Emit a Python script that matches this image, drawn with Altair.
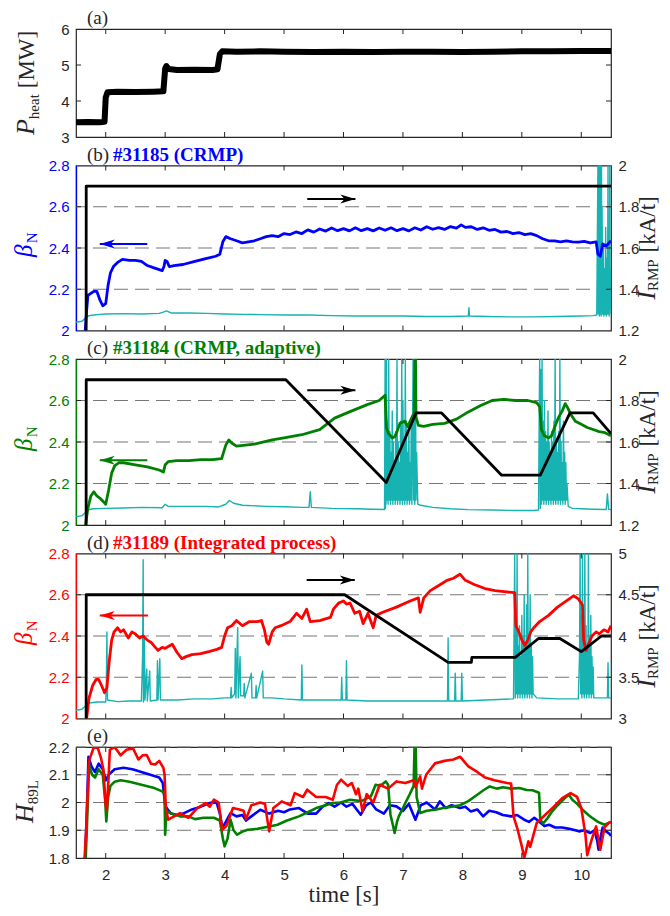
import altair as alt
import pandas as pd

# ---------------- data ----------------
X_TICKS = [2, 3, 4, 5, 6, 7, 8, 9, 10]
BETA_TICKS = [2, 2.2, 2.4, 2.6, 2.8]
BETA_GRID = [2.2, 2.4, 2.6]
PHEAT_TICKS = [3, 4, 5, 6]
IRMP_TICKS_BC = [1.2, 1.4, 1.6, 1.8, 2]
IRMP_TICKS_D = [3, 3.5, 4, 4.5, 5]
H_TICKS = [1.8, 1.9, 2.0, 2.1, 2.2]
H_GRID = [1.9, 2.0, 2.1, 2.2]

pheat_t = [1.5, 1.7, 1.9, 1.98, 2.0, 2.03, 2.2, 2.5, 2.8, 2.97, 3.0, 3.02, 3.06, 3.2, 3.5, 3.8, 3.88,
           3.92, 3.96, 4.2, 4.6, 5.0, 5.5, 6.0, 6.5, 7.0, 7.5, 8.0, 8.5, 9.0, 9.5, 10.0, 10.5]
pheat_v = [3.41, 3.42, 3.41, 3.42, 4.1, 4.24, 4.26, 4.25, 4.26, 4.27, 4.9, 4.97, 4.89, 4.86, 4.87, 4.86, 4.88,
           5.3, 5.38, 5.37, 5.38, 5.37, 5.36, 5.37, 5.36, 5.37, 5.37, 5.36, 5.37, 5.38, 5.38, 5.39, 5.39]

# ---- #31185 (b)
beta_b_t = [1.65, 1.68, 1.70, 1.75, 1.8, 1.85, 1.9, 1.95, 2.0, 2.04, 2.08, 2.13, 2.2, 2.28, 2.4, 2.5, 2.6, 2.7,
            2.8, 2.9, 2.95, 2.98, 3.0, 3.03, 3.07, 3.15, 3.3, 3.5, 3.7, 3.85, 3.92, 3.97, 4.02, 4.1, 4.2, 4.3,
            4.4, 4.5, 4.6, 4.7, 4.8, 4.9, 5.0, 5.1, 5.2, 5.3, 5.4, 5.5, 5.6, 5.7, 5.8, 5.9, 6.0, 6.1, 6.2,
            6.3, 6.4, 6.5, 6.6, 6.7, 6.8, 6.9, 7.0, 7.1, 7.2, 7.3, 7.4, 7.5, 7.6, 7.7, 7.8, 7.9, 7.98, 8.05,
            8.15, 8.25, 8.35, 8.45, 8.55, 8.65, 8.75, 8.85, 8.95, 9.05, 9.15, 9.25, 9.35, 9.45, 9.55, 9.65,
            9.75, 9.85, 9.95, 10.05, 10.15, 10.25, 10.28, 10.32, 10.36, 10.42, 10.5]
beta_b_v = [1.98, 2.1, 2.17, 2.18, 2.19, 2.19, 2.15, 2.12, 2.13, 2.22, 2.28, 2.31, 2.33, 2.345, 2.34, 2.34, 2.335,
            2.315, 2.305, 2.295, 2.29, 2.31, 2.34, 2.335, 2.31, 2.315, 2.32, 2.335, 2.35, 2.36, 2.37, 2.43, 2.455,
            2.445, 2.435, 2.425, 2.43, 2.435, 2.445, 2.455, 2.46, 2.455, 2.47, 2.465, 2.478, 2.47, 2.488, 2.477,
            2.492, 2.482, 2.497, 2.484, 2.494, 2.483, 2.498, 2.484, 2.494, 2.483, 2.497, 2.486, 2.498, 2.484, 2.494, 2.483,
            2.498, 2.487, 2.503, 2.491, 2.499, 2.49, 2.504, 2.496, 2.512, 2.50, 2.503, 2.49, 2.498, 2.486, 2.49,
            2.477, 2.48, 2.47, 2.475, 2.465, 2.47, 2.46, 2.445, 2.435, 2.435, 2.43, 2.435, 2.43, 2.428, 2.432,
            2.425, 2.43, 2.37, 2.36, 2.42, 2.41, 2.435]
cyan_b_t = [1.5, 1.6, 1.66, 1.72, 1.8, 1.9, 2.0, 2.3, 2.6, 2.9, 2.98, 3.02, 3.1, 3.4, 3.7, 4.0, 4.3, 4.6, 5.0,
            5.4, 5.8, 6.2, 6.6, 7.0, 7.4, 7.8, 8.1, 8.11, 8.12, 8.4, 8.8, 9.2, 9.6, 10.0, 10.2, 10.26,
            10.28, 10.285, 10.29, 10.295, 10.30, 10.305, 10.31, 10.315, 10.32, 10.325, 10.33, 10.335, 10.34,
            10.345, 10.35, 10.36, 10.37, 10.38, 10.39, 10.40, 10.41, 10.42, 10.43, 10.44, 10.45, 10.455,
            10.46, 10.47, 10.48, 10.485, 10.49, 10.5]
cyan_b_v = [2.04, 2.045, 2.06, 2.072, 2.075, 2.078, 2.08, 2.082, 2.08, 2.083, 2.09, 2.095, 2.085, 2.085, 2.083,
            2.08, 2.078, 2.077, 2.075, 2.075, 2.072, 2.07, 2.07, 2.07, 2.068, 2.068, 2.07, 2.11, 2.07, 2.068,
            2.066, 2.066, 2.068, 2.07, 2.072, 2.075,
            2.8, 2.08, 2.8, 2.1, 2.8, 2.07, 2.8, 2.09, 2.7, 2.08, 2.8, 2.07, 2.8,
            2.1, 2.6, 2.08, 2.4, 2.07, 2.3, 2.08, 2.5, 2.07, 2.35, 2.08, 2.8, 2.08,
            2.45, 2.07, 2.8, 2.1, 2.3, 2.08]
irmp_b_t = [1.67, 1.672, 10.5]
irmp_b_v = [1.0, 1.9, 1.9]

# ---- #31184 (c)
beta_c_t = [1.65, 1.7, 1.75, 1.8, 1.85, 1.9, 1.97, 2.0, 2.05, 2.1, 2.15, 2.22, 2.3, 2.5, 2.7, 2.9, 2.97, 3.0,
            3.05, 3.2, 3.4, 3.6, 3.8, 3.95, 4.02, 4.07, 4.12, 4.2, 4.5, 4.8, 5.0, 5.3, 5.6, 5.85, 6.1, 6.4,
            6.6, 6.7, 6.72, 6.76, 6.82, 6.86, 6.9, 6.95, 7.03, 7.08, 7.13, 7.17, 7.19, 7.2, 7.21, 7.22, 7.26,
            7.35, 7.5, 7.7, 7.9, 8.1, 8.3, 8.5, 8.7, 8.9, 9.1, 9.25, 9.3, 9.33, 9.38, 9.45, 9.5, 9.55, 9.62,
            9.68, 9.73, 9.78, 9.83, 9.9, 10.0, 10.1, 10.2, 10.3, 10.4, 10.5]
beta_c_v = [1.98, 2.08, 2.14, 2.16, 2.14, 2.13, 2.11, 2.10, 2.17, 2.25, 2.285, 2.30, 2.30, 2.29, 2.28, 2.265,
            2.255, 2.29, 2.305, 2.31, 2.31, 2.315, 2.315, 2.32, 2.385, 2.41, 2.395, 2.38, 2.39, 2.41, 2.42,
            2.435, 2.46, 2.515, 2.545, 2.58, 2.60, 2.625, 2.47, 2.44, 2.42, 2.425, 2.45, 2.49, 2.50, 2.475,
            2.505, 2.53, 2.52, 2.85, 2.85, 2.52, 2.48, 2.475, 2.485, 2.49, 2.51, 2.545, 2.575, 2.60, 2.605,
            2.60, 2.60, 2.59, 2.57, 2.46, 2.43, 2.42, 2.43, 2.47, 2.52, 2.55, 2.585, 2.56, 2.53, 2.50, 2.485,
            2.47, 2.46, 2.45, 2.445, 2.43]
cyan_c_t = [1.5, 1.6, 1.66, 1.72, 1.8, 2.0, 2.3, 2.6, 2.95, 3.0, 3.05, 3.4, 3.7, 3.9, 4.02, 4.08, 4.15, 4.3,
            4.7, 5.0, 5.3, 5.42, 5.44, 5.46, 5.8, 6.2, 6.5, 6.69,
            6.70, 6.705, 6.71, 6.715, 6.72, 6.73, 6.74, 6.75, 6.76, 6.77, 6.78, 6.79, 6.80, 6.81, 6.82, 6.83,
            6.84, 6.85, 6.86, 6.87, 6.88, 6.89, 6.90, 6.91, 6.92, 6.93, 6.94, 6.95, 6.96, 6.97, 6.98, 6.99,
            7.00, 7.01, 7.02, 7.03, 7.04, 7.05, 7.06, 7.07, 7.08, 7.09, 7.10, 7.11, 7.12, 7.13, 7.14, 7.15,
            7.16, 7.17, 7.18, 7.19, 7.20, 7.21, 7.22, 7.23, 7.25,
            7.3, 7.5, 7.8, 8.1, 8.5, 8.9, 9.2, 9.28,
            9.30, 9.31, 9.32, 9.33, 9.34, 9.35, 9.36, 9.37, 9.38, 9.39, 9.40, 9.41, 9.42, 9.43, 9.44, 9.45,
            9.46, 9.47, 9.48, 9.49, 9.50, 9.51, 9.52, 9.53, 9.54, 9.55, 9.56, 9.57, 9.58, 9.59, 9.60, 9.61,
            9.62, 9.63, 9.64, 9.65, 9.66, 9.67, 9.68, 9.69, 9.70, 9.71, 9.72, 9.73, 9.74, 9.75, 9.76, 9.78,
            9.85, 10.0, 10.2, 10.42, 10.44, 10.46, 10.5]
cyan_c_v = [2.04, 2.045, 2.06, 2.075, 2.078, 2.08, 2.082, 2.085, 2.083, 2.1, 2.09, 2.09, 2.09, 2.087, 2.1, 2.118,
            2.105, 2.095, 2.09, 2.088, 2.085, 2.085, 2.16, 2.085, 2.08, 2.078, 2.076, 2.075,
            2.8, 2.08, 2.6, 2.1, 2.8, 2.12, 2.5, 2.1, 2.8, 2.12, 2.45, 2.1, 2.35, 2.12, 2.55, 2.1,
            2.4, 2.12, 2.3, 2.1, 2.45, 2.12, 2.8, 2.1, 2.4, 2.12, 2.3, 2.1, 2.5, 2.12, 2.8, 2.1,
            2.6, 2.12, 2.4, 2.1, 2.8, 2.12, 2.5, 2.1, 2.35, 2.12, 2.45, 2.1, 2.3, 2.12, 2.5, 2.1,
            2.4, 2.8, 2.12, 2.6, 2.1, 2.8, 2.12, 2.35, 2.1,
            2.095, 2.085, 2.078, 2.074, 2.072, 2.07, 2.07, 2.072,
            2.8, 2.08, 2.75, 2.1, 2.8, 2.12, 2.5, 2.1, 2.6, 2.12, 2.45, 2.1, 2.4, 2.12, 2.55, 2.1,
            2.4, 2.12, 2.35, 2.1, 2.45, 2.12, 2.4, 2.1, 2.5, 2.12, 2.8, 2.1, 2.4, 2.12, 2.35, 2.1,
            2.45, 2.12, 2.8, 2.1, 2.4, 2.12, 2.3, 2.1, 2.5, 2.12, 2.35, 2.1, 2.3, 2.12, 2.2, 2.09,
            2.08, 2.078, 2.076, 2.075, 2.15, 2.076, 2.075]
irmp_c_t = [1.67, 1.672, 5.03, 6.72, 7.22, 7.65, 8.66, 9.31, 9.81, 10.2, 10.5]
irmp_c_v = [1.0, 1.9, 1.9, 1.405, 1.74, 1.74, 1.44, 1.44, 1.74, 1.74, 1.64]

# ---- #31189 (d)
beta_d_t = [1.67, 1.72, 1.78, 1.84, 1.88, 1.93, 1.98, 2.02, 2.06, 2.1, 2.14, 2.2, 2.25, 2.3, 2.38, 2.44, 2.5,
            2.57, 2.63, 2.7, 2.76, 2.82, 2.88, 2.95, 3.0, 3.06, 3.12, 3.2, 3.28, 3.35, 3.45, 3.6, 3.75, 3.87,
            3.95, 4.0, 4.05, 4.12, 4.2, 4.3, 4.42, 4.55, 4.62, 4.67, 4.71, 4.74, 4.8, 4.85, 4.95, 5.1, 5.21,
            5.3, 5.38, 5.44, 5.6, 5.78, 5.83, 5.92, 6.0, 6.05, 6.11, 6.19, 6.27, 6.33, 6.41, 6.5, 6.55, 6.66,
            6.89, 7.12, 7.26, 7.29, 7.35, 7.46, 7.63, 7.74, 7.85, 7.96, 8.05, 8.2, 8.38, 8.55, 8.7, 8.88,
            8.9, 8.95, 9.0, 9.05, 9.1, 9.15, 9.2, 9.3, 9.45, 9.6, 9.75, 9.87, 9.95, 10.02, 10.04, 10.08,
            10.12, 10.18, 10.25, 10.3, 10.38, 10.45, 10.5]
beta_d_v = [1.98, 2.1, 2.16, 2.19, 2.19, 2.16, 2.125, 2.15, 2.28, 2.38, 2.42, 2.44, 2.42, 2.43, 2.39, 2.42,
            2.41, 2.39, 2.40, 2.38, 2.37, 2.35, 2.33, 2.345, 2.34, 2.35, 2.36, 2.32, 2.29, 2.30, 2.31, 2.315,
            2.325, 2.335, 2.345, 2.40, 2.44, 2.45, 2.475, 2.45, 2.47, 2.47, 2.475, 2.43, 2.37, 2.36, 2.42,
            2.44, 2.45, 2.47, 2.51, 2.485, 2.53, 2.47, 2.475, 2.49, 2.53, 2.56, 2.57, 2.555, 2.56, 2.51,
            2.52, 2.46, 2.51, 2.44, 2.50, 2.515, 2.54, 2.57, 2.585, 2.515, 2.585, 2.62, 2.65, 2.67, 2.68,
            2.70, 2.67, 2.65, 2.63, 2.62, 2.615, 2.61, 2.45, 2.42, 2.38, 2.355, 2.38, 2.42, 2.44, 2.47,
            2.50, 2.54, 2.57, 2.595, 2.58, 2.55, 2.38, 2.33, 2.36, 2.40, 2.42, 2.41, 2.43, 2.42, 2.45]
cyan_d_t = [1.5, 1.6, 1.66, 1.72, 1.85, 2.0, 2.01, 2.02, 2.03, 2.2, 2.4, 2.6, 2.62, 2.63, 2.635, 2.65, 2.66,
            2.69, 2.7, 2.74, 2.75, 2.86, 2.87, 2.88, 2.91, 2.92, 3.2, 3.5, 3.8, 4.0, 4.1, 4.11, 4.12, 4.17,
            4.18, 4.19, 4.22, 4.23, 4.26, 4.27, 4.32, 4.33, 4.34, 4.45, 4.46, 4.52, 4.53, 4.54, 4.64, 4.65,
            4.8, 5.0, 5.29, 5.3, 5.31, 5.6, 5.96, 5.97, 5.98, 6.04, 6.05, 6.06, 6.4, 6.8, 7.2, 7.5, 7.75,
            7.76, 7.77, 7.87, 7.88, 7.89, 7.98, 7.99, 8.0, 8.4, 8.86,
            8.88, 8.89, 8.90, 8.91, 8.92, 8.93, 8.94, 8.95, 8.96, 8.97, 8.98, 8.99, 9.0, 9.01, 9.02, 9.03,
            9.04, 9.05, 9.06, 9.07, 9.08, 9.09, 9.10, 9.11, 9.12, 9.13, 9.14, 9.15, 9.16, 9.17, 9.18, 9.19,
            9.25, 9.6, 9.95,
            9.97, 9.98, 9.99, 10.0, 10.01, 10.02, 10.03, 10.04, 10.05, 10.06, 10.07, 10.08, 10.09, 10.10,
            10.11, 10.12, 10.13, 10.14, 10.15, 10.16, 10.17, 10.18, 10.19, 10.2, 10.21,
            10.25, 10.44, 10.45, 10.46, 10.5]
cyan_d_v = [2.04, 2.045, 2.06, 2.075, 2.08, 2.08, 2.15, 2.42, 2.09, 2.082, 2.085, 2.085, 2.3, 2.77, 2.08, 2.4,
            2.09, 2.24, 2.085, 2.23, 2.085, 2.09, 2.28, 2.09, 2.29, 2.09, 2.09, 2.095, 2.095, 2.1, 2.1, 2.15,
            2.1, 2.12, 2.34, 2.1, 2.44, 2.1, 2.3, 2.11, 2.11, 2.17, 2.1, 2.22, 2.1, 2.1, 2.16, 2.1, 2.23, 2.1,
            2.1, 2.095, 2.09, 2.26, 2.09, 2.09, 2.09, 2.2, 2.09, 2.09, 2.28, 2.09, 2.085, 2.085, 2.085, 2.085,
            2.085, 2.39, 2.085, 2.085, 2.22, 2.085, 2.085, 2.22, 2.085, 2.09, 2.095,
            2.8, 2.1, 2.5, 2.12, 2.8, 2.1, 2.35, 2.12, 2.45, 2.1, 2.3, 2.12, 2.5, 2.1, 2.4, 2.12,
            2.6, 2.1, 2.35, 2.12, 2.55, 2.1, 2.8, 2.12, 2.4, 2.1, 2.6, 2.12, 2.35, 2.1, 2.3, 2.12,
            2.1, 2.095, 2.095,
            2.3, 2.8, 2.12, 2.5, 2.1, 2.8, 2.12, 2.4, 2.1, 2.8, 2.12, 2.45, 2.1, 2.35,
            2.12, 2.8, 2.1, 2.4, 2.12, 2.5, 2.1, 2.3, 2.12, 2.25, 2.1,
            2.1, 2.1, 2.27, 2.1, 2.1]
irmp_d_t = [1.67, 1.672, 6.02, 7.76, 8.15, 8.16, 8.89, 9.28, 9.64, 10.0, 10.34, 10.5]
irmp_d_v = [2.5, 4.5, 4.5, 3.68, 3.68, 3.74, 3.74, 3.97, 3.97, 3.81, 4.0, 4.0]

# ---- H89L (e)
h_b_t = [1.65, 1.68, 1.71, 1.76, 1.82, 1.88, 1.95, 2.0, 2.05, 2.15, 2.3, 2.45, 2.6, 2.75, 2.9, 2.96, 3.0,
         3.04, 3.1, 3.2, 3.3, 3.45, 3.6, 3.75, 3.86, 3.92, 3.96, 4.02, 4.1, 4.2, 4.3, 4.36, 4.45, 4.6, 4.75,
         4.9, 5.0, 5.1, 5.25, 5.4, 5.54, 5.65, 5.75, 5.85, 5.96, 6.05, 6.15, 6.29, 6.38, 6.46, 6.55, 6.68,
         6.78, 6.89, 7.0, 7.1, 7.21, 7.3, 7.4, 7.54, 7.62, 7.72, 7.82, 7.96, 8.05, 8.14, 8.25, 8.35, 8.45,
         8.57, 8.68, 8.82, 8.92, 9.04, 9.12, 9.21, 9.3, 9.38, 9.46, 9.56, 9.68, 9.8, 9.9, 9.96, 10.05,
         10.15, 10.22, 10.27, 10.29, 10.33, 10.36, 10.42, 10.46, 10.5]
h_b_v = [1.78, 1.95, 2.165, 2.13, 2.11, 2.14, 2.12, 2.08, 2.10, 2.12, 2.125, 2.12, 2.11, 2.10, 2.09, 2.07,
         1.99, 1.975, 1.96, 1.955, 1.96, 1.975, 1.985, 1.998, 2.004, 1.96, 1.908, 1.93, 1.962, 1.95, 1.955,
         1.935, 1.95, 1.974, 1.96, 1.97, 1.965, 1.975, 1.98, 1.96, 1.96, 1.985, 1.998, 1.985, 2.0, 1.985,
         1.995, 1.956, 1.99, 2.0, 1.975, 1.96, 1.99, 1.986, 1.97, 1.995, 1.938, 1.99, 2.0, 1.975, 2.004,
         1.98, 1.99, 1.98, 1.985, 1.968, 1.975, 1.95, 1.97, 1.965, 1.955, 1.95, 1.955, 1.938, 1.93, 1.945,
         1.93, 1.915, 1.92, 1.91, 1.91, 1.905, 1.9, 1.896, 1.9, 1.89, 1.9, 1.86, 1.83, 1.88, 1.91, 1.895,
         1.89, 1.88]
h_g_t = [1.66, 1.69, 1.72, 1.77, 1.82, 1.88, 1.95, 1.99, 2.01, 2.04, 2.08, 2.15, 2.25, 2.4, 2.6, 2.82, 2.95,
         2.99, 3.0, 3.02, 3.1, 3.25, 3.39, 3.5, 3.65, 3.82, 3.92, 3.97, 4.0, 4.05, 4.1, 4.15, 4.21, 4.3,
         4.39, 4.55, 4.71, 4.89, 5.05, 5.25, 5.4, 5.54, 5.7, 5.82, 5.95, 6.11, 6.3, 6.46, 6.54, 6.62, 6.71,
         6.75, 6.79, 6.83, 6.86, 6.9, 6.93, 7.0, 7.04, 7.11, 7.18, 7.2, 7.21, 7.23, 7.29, 7.4, 7.54, 7.68,
         7.82, 7.96, 8.1, 8.25, 8.36, 8.46, 8.58, 8.68, 8.82, 8.96, 9.08, 9.18, 9.29, 9.31, 9.36, 9.42,
         9.5, 9.58, 9.64, 9.72, 9.79, 9.85, 9.93, 10.04, 10.12, 10.18, 10.28, 10.39, 10.45, 10.5]
h_g_v = [1.78, 1.95, 2.135, 2.10, 2.09, 2.12, 2.10, 2.01, 1.932, 2.02, 2.06, 2.075, 2.08, 2.075, 2.064, 2.052,
         2.04, 2.03, 1.884, 1.97, 1.96, 1.95, 1.95, 1.94, 1.945, 1.945, 1.935, 1.87, 1.842, 1.87, 1.938,
         1.90, 1.884, 1.895, 1.902, 1.905, 1.912, 1.92, 1.935, 1.95, 1.965, 1.98, 1.99, 1.998, 2.0, 2.01,
         2.005, 2.022, 2.064, 2.06, 2.076, 2.064, 1.956, 1.92, 1.89, 1.93, 1.95, 1.98, 1.998, 2.028, 2.06,
         2.25, 2.25, 2.02, 1.962, 1.97, 1.974, 1.98, 1.985, 1.99, 2.005, 2.028, 2.045, 2.058, 2.05, 2.055,
         2.05, 2.052, 2.045, 2.044, 2.035, 1.938, 1.925, 1.94, 1.965, 1.985, 1.998, 2.015, 2.028, 2.01,
         1.995, 1.97, 1.955, 1.945, 1.93, 1.92, 1.925, 1.93]
h_r_t = [1.64, 1.67, 1.72, 1.8, 1.87, 1.92, 1.96, 2.0, 2.02, 2.05, 2.07, 2.15, 2.25, 2.35, 2.46, 2.55, 2.62,
         2.69, 2.76, 2.83, 2.9, 2.97, 2.99, 3.01, 3.05, 3.15, 3.25, 3.39, 3.54, 3.68, 3.75, 3.82, 3.9, 3.93,
         3.96, 4.03, 4.14, 4.25, 4.32, 4.36, 4.45, 4.6, 4.68, 4.71, 4.75, 4.82, 4.96, 5.11, 5.18, 5.32,
         5.39, 5.54, 5.7, 5.82, 5.89, 5.96, 6.07, 6.14, 6.21, 6.25, 6.32, 6.39, 6.5, 6.61, 6.75, 6.89,
         7.04, 7.18, 7.21, 7.29, 7.32, 7.39, 7.54, 7.7, 7.85, 7.96, 8.1, 8.25, 8.38, 8.54, 8.75, 8.82,
         8.86, 8.93, 9.0, 9.04, 9.11, 9.14, 9.25, 9.39, 9.54, 9.68, 9.82, 9.93, 10.0, 10.07, 10.1, 10.18,
         10.25, 10.32, 10.39, 10.46, 10.5]
h_r_v = [1.78, 1.9, 2.15, 2.2, 2.195, 2.16, 2.12, 1.99, 1.975, 2.1, 2.19, 2.2, 2.17, 2.19, 2.195, 2.155,
         2.17, 2.171, 2.14, 2.137, 2.15, 2.125, 2.10, 1.985, 1.938, 1.95, 1.962, 1.945, 1.98, 1.998, 1.985,
         2.01, 2.0, 1.95, 1.902, 1.915, 1.98, 1.975, 1.97, 1.94, 1.99, 2.0, 1.995, 1.95, 1.896, 1.98,
         2.004, 1.99, 2.034, 2.02, 2.046, 2.02, 2.02, 2.01, 2.064, 2.082, 2.06, 2.07, 2.03, 2.05, 1.968,
         2.03, 2.0, 2.064, 2.05, 2.076, 2.07, 2.08, 2.055, 2.094, 2.05, 2.10, 2.141, 2.15, 2.155, 2.165,
         2.13, 2.11, 2.09, 2.08, 2.07, 2.068, 1.95, 1.902, 1.842, 1.80, 1.86, 1.84, 1.926, 1.955, 1.985,
         2.016, 2.034, 2.02, 1.98, 1.884, 1.81, 1.87, 1.914, 1.83, 1.91, 1.926, 1.93]

# arrows: (start, end, level)
arrow_b_beta = (1.9, 2.7, 2.42)
arrow_b_i = (5.39, 6.2, 1.838)
arrow_c_beta = (1.9, 2.7, 2.312)
arrow_c_i = (5.39, 6.2, 1.849)
arrow_d_beta = (1.9, 2.71, 2.50)
arrow_d_i = (5.38, 6.19, 4.68)

# ---------------- style ----------------
W = 535
SERIF = "Liberation Serif"
SANS = "Liberation Sans"
DARK = "#262626"
CYAN = "#17b2b2"
BLUE = "#0000ff"
GREEN = "#008000"
RED = "#ff0000"
GRID = "#777777"

XS = alt.Scale(domain=[1.5, 10.5], nice=False, zero=False)
one = pd.DataFrame({"k": [0]})

CW = {'P': .61, 'β': .55, 'N': .67, 'H': .72, 'I': .33, 'R': .67, 'M': .89, 'W': .94, 'A': .72,
      'L': .61, '[': .33, ']': .33, '/': .28, 'k': .5, 't': .28, 'h': .5, 'e': .44, 'a': .44}


def tw(s, size):
    return sum(CW.get(c, 0.5) for c in s) * size


def df(t, v):
    return pd.DataFrame({"t": t, "v": v})


def axis_y(values, orient, color, domain):
    kw = dict(orient=orient, values=values, format="~g", title=None, ticks=False, grid=False,
              labelFont=SANS, labelFontSize=15, labelColor=color, labelPadding=7,
              labelOverlap=False, labelFlush=False, domain=domain)
    if domain:
        kw.update(domainColor=color, domainWidth=1.3)
    return alt.Axis(**kw)


def X(xa):
    return alt.X("t:Q", scale=XS, axis=xa)


def line(t, v, ys, ya, color, width, xa=None):
    return alt.Chart(df(t, v)).mark_line(color=color, strokeWidth=width, clip=True, strokeJoin="round").encode(
        x=X(xa), y=alt.Y("v:Q", scale=ys, axis=ya))


def grid(values, ys, ya):
    return alt.Chart(pd.DataFrame({"v": values})).mark_rule(color=GRID, strokeWidth=1.2,
                                                            strokeDash=[14, 7]).encode(
        y=alt.Y("v:Q", scale=ys, axis=ya))


def xticks(H, xa=None):
    d = pd.DataFrame({"t": X_TICKS})
    top = alt.Chart(d).mark_rule(color=DARK).encode(x=X(xa), y=alt.value(0), y2=alt.value(5))
    bot = alt.Chart(d).mark_rule(color=DARK).encode(x=X(xa), y=alt.value(H - 5), y2=alt.value(H))
    return [top, bot]


def yticks(values, ys, ya, side):
    d = pd.DataFrame({"v": values})
    x0, x1 = (0, 5) if side == "left" else (W - 5, W)
    return alt.Chart(d).mark_rule(color=DARK).encode(
        y=alt.Y("v:Q", scale=ys, axis=ya), x=alt.value(x0), x2=alt.value(x1))


def arrow(spec, ys, ya, color, direction):
    t0, t1, lvl = spec
    shaft = alt.Chart(pd.DataFrame({"t": [t0, t1], "v": [lvl, lvl]})).mark_line(
        color=color, strokeWidth=2).encode(x=X(None), y=alt.Y("v:Q", scale=ys, axis=ya))
    if direction == "left":
        tip, path, off = t0, "M-1,0L1,-0.6L0.45,0L1,0.6Z", 7.5
    else:
        tip, path, off = t1, "M1,0L-1,-0.6L-0.45,0L-1,0.6Z", -7.5
    head = alt.Chart(pd.DataFrame({"t": [tip], "v": [lvl]})).mark_point(
        shape=path, filled=True, size=225, color=color, opacity=1, strokeWidth=0, xOffset=off).encode(
        x=X(None), y=alt.Y("v:Q", scale=ys, axis=ya))
    return [shaft, head]


def label(tag, shot=None, color=DARK):
    out = [alt.Chart(one).mark_text(text=tag, align="left", baseline="alphabetic", font=SERIF,
                                    fontSize=19, color=DARK).encode(x=alt.value(11), y=alt.value(-5))]
    if shot:
        out.append(alt.Chart(one).mark_text(text=shot, align="left", baseline="alphabetic", font=SERIF,
                                            fontSize=19, fontWeight="bold", color=color).encode(
            x=alt.value(37), y=alt.value(-5)))
    return out


def vtitle(parts, bx, yc):
    """parts: (text, size, style, baseline shift, gap before, color)"""
    total = sum(tw(p[0], p[1]) + p[4] for p in parts)
    y = yc + total / 2
    out = []
    for text, size, style, dx, gap, color in parts:
        y -= gap
        out.append(alt.Chart(one).mark_text(text=text, angle=270, align="left", baseline="alphabetic",
                                            font=SERIF, fontSize=size, fontStyle=style, color=color).encode(
            x=alt.value(bx + dx), y=alt.value(y)))
        y -= tw(text, size)
    return out


# ---------------- panels ----------------
def panel_a():
    H = 108
    ys = alt.Scale(domain=[3, 6], nice=False, zero=False)
    ax = axis_y(PHEAT_TICKS, "left", DARK, False)
    layers = [line(pheat_t, pheat_v, ys, ax, "#000000", 6),
              yticks([4, 5], ys, ax, "left"), yticks([4, 5], ys, ax, "right")]
    layers += xticks(H)
    layers += label("(a)")
    layers += vtitle([("P", 26, "italic", 0, 0, DARK), ("heat", 15, "normal", 5, 0, DARK),
                      ("[MW]", 23, "normal", 0, 6, DARK)], -42, H / 2)
    return alt.layer(*layers).properties(width=W, height=H)


def panel_rmp(H, tag, shot, color, bt, bv, ct, cv, it, iv, idom, iticks, a_beta, a_i):
    ys_l = alt.Scale(domain=[2, 2.8], nice=False, zero=False)
    ys_r = alt.Scale(domain=idom, nice=False, zero=False)
    ax_l = axis_y(BETA_TICKS, "left", color, True)
    ax_r = axis_y(iticks, "right", DARK, False)
    left = [grid(BETA_GRID, ys_l, ax_l), yticks(BETA_TICKS[1:-1], ys_l, ax_l, "left"),
            line(ct, cv, ys_l, ax_l, CYAN, 1.4), line(bt, bv, ys_l, ax_l, color, 2.8)]
    left += arrow(a_beta, ys_l, ax_l, color, "left")
    right = [line(it, iv, ys_r, ax_r, "#000000", 2.8), yticks(iticks[1:-1], ys_r, ax_r, "right")]
    right += arrow(a_i, ys_r, ax_r, "#000000", "right")
    others = xticks(H) + label(tag, shot, color)
    others += vtitle([("β", 25, "italic", 0, 0, color), ("N", 15, "normal", 5, 0, color)], -44, H / 2 - 3)
    others += vtitle([("I", 26, "italic", 0, 0, DARK), ("RMP", 15, "normal", 3, 0, DARK),
                      ("[kA/t]", 23, "normal", 0, 6, DARK)], W + 44, H / 2)
    return alt.layer(alt.layer(*left), alt.layer(*right), *others).resolve_scale(
        y="independent").properties(width=W, height=H)


def panel_e():
    H = 111
    ys = alt.Scale(domain=[1.8, 2.2], nice=False, zero=False)
    ax = axis_y(H_TICKS, "left", DARK, False)
    xax = alt.Axis(values=X_TICKS, format="d", title="time [s]", ticks=False, grid=False, domain=False,
                   labelFont=SANS, labelFontSize=15, labelColor=DARK, labelPadding=9, labelFlush=False,
                   labelOverlap=False, titleFont=SERIF, titleFontSize=23, titleFontWeight="normal",
                   titleColor=DARK, titlePadding=1)
    layers = [grid(H_GRID, ys, ax),
              line(h_b_t, h_b_v, ys, ax, BLUE, 2.6, xax), line(h_g_t, h_g_v, ys, ax, GREEN, 2.6, xax),
              line(h_r_t, h_r_v, ys, ax, RED, 2.6, xax),
              yticks([1.9, 2.0, 2.1], ys, ax, "left"), yticks([1.9, 2.0, 2.1], ys, ax, "right")]
    layers += xticks(H, xax)
    layers += label("(e)")
    layers += vtitle([("H", 26, "italic", 0, 0, DARK), ("89L", 15, "normal", 5, 0, DARK)], -43, H / 2 - 1)
    return alt.layer(*layers).properties(width=W, height=H)


pa = panel_a()
pb = panel_rmp(165, "(b)", "#31185 (CRMP)", BLUE, beta_b_t, beta_b_v, cyan_b_t, cyan_b_v,
               irmp_b_t, irmp_b_v, [1.2, 2], IRMP_TICKS_BC, arrow_b_beta, arrow_b_i)
pc = panel_rmp(166, "(c)", "#31184 (CRMP, adaptive)", GREEN, beta_c_t, beta_c_v, cyan_c_t, cyan_c_v,
               irmp_c_t, irmp_c_v, [1.2, 2], IRMP_TICKS_BC, arrow_c_beta, arrow_c_i)
pd_ = panel_rmp(165, "(d)", "#31189 (Integrated process)", RED, beta_d_t, beta_d_v, cyan_d_t, cyan_d_v,
                irmp_d_t, irmp_d_v, [3, 5], IRMP_TICKS_D, arrow_d_beta, arrow_d_i)
pe = panel_e()

chart = alt.vconcat(pa, pb, pc, pd_, pe, spacing=28.5, bounds="flush").configure_view(
    stroke=DARK, strokeWidth=1.2).properties(padding={"left": 3, "top": 0, "right": 0, "bottom": 0})

chart.save("out.html", embed_options={"renderer": "svg", "actions": False})
